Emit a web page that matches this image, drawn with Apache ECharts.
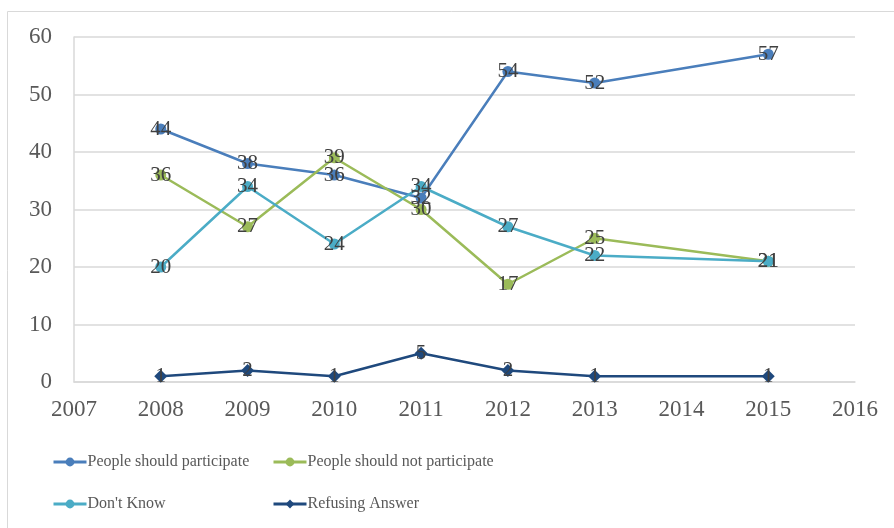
<!DOCTYPE html>
<html>
<head>
<meta charset="utf-8">
<script src="https://cdn.jsdelivr.net/npm/echarts@6/dist/echarts.min.js"></script>
<style>
  html, body { margin: 0; padding: 0; background: #fff; }
  #chart { width: 894px; height: 528px; }
</style>
</head>
<body>
<div id="chart"></div>
<script>
// years on the x axis
const years = [2008, 2009, 2010, 2011, 2012, 2013, 2015];
const seriesNames = ["People should participate", "People should not participate", "Don't Know", "Refusing Answer"];
const shouldParticipate = [44, 38, 36, 32, 54, 52, 57];
const shouldNotParticipate = [36, 27, 39, 30, 17, 25, 21];
const dontKnow = [20, 34, 24, 34, 27, 22, 21];
const refusing = [1, 2, 1, 5, 2, 1, 1];
const colors = ["#4a7ebb", "#9bbb59", "#4bacc6", "#1f497d"];

const font = "'Liberation Serif', 'Times New Roman', serif";

function pairs(vals) {
  return years.map((y, i) => [y, vals[i]]);
}

function makeSeries(name, vals, color, symbol) {
  return {
    name: name,
    type: "line",
    data: pairs(vals),
    symbol: symbol,
    symbolSize: symbol === "diamond" ? 13 : 11,
    lineStyle: { color: color, width: 2.5 },
    itemStyle: { color: color },
    label: {
      show: true,
      position: "inside",
      color: "#404040",
      fontFamily: font,
      fontSize: 21,
    },
  };
}

const myChart = echarts.init(document.getElementById("chart"));

const legendBase = {
  padding: 0,
  itemWidth: 33,
  itemHeight: 11,
  itemGap: 0,
  lineStyle: { width: 3 },
  textStyle: { color: "#595959", fontFamily: font, fontSize: 16, padding: [0, 0, 0, -4] },
};

myChart.setOption({
  animation: false,
  color: colors,
  graphic: [
    {
      type: "rect",
      shape: { x: 7.5, y: 11.5, width: 960, height: 600 },
      style: { fill: "none", stroke: "#d9d9d9", lineWidth: 1 },
      silent: true,
    },
  ],
  grid: { left: 74, right: 39, top: 37, bottom: 146 },
  legend: [
    Object.assign({ left: 52, top: 454, data: [seriesNames[0]] }, legendBase),
    Object.assign({ left: 272, top: 454, data: [seriesNames[1]] }, legendBase),
    Object.assign({ left: 52, top: 496, data: [seriesNames[2]] }, legendBase),
    Object.assign({ left: 272, top: 496, data: [seriesNames[3]] }, legendBase),
  ],
  xAxis: {
    type: "value",
    min: 2007,
    max: 2016,
    interval: 1,
    axisLine: { show: true, lineStyle: { color: "#d9d9d9", width: 1.5 } },
    axisTick: { show: false },
    splitLine: { show: false },
    axisLabel: {
      color: "#595959",
      fontFamily: font,
      fontSize: 23,
      margin: 16,
      formatter: (v) => String(v),
    },
  },
  yAxis: {
    type: "value",
    min: 0,
    max: 60,
    interval: 10,
    axisLine: { show: true, lineStyle: { color: "#d9d9d9", width: 1.5 } },
    axisTick: { show: false },
    splitLine: { show: true, lineStyle: { color: "#d9d9d9", width: 1.5 } },
    axisLabel: { color: "#595959", fontFamily: font, fontSize: 23, margin: 22 },
  },
  series: [
    makeSeries(seriesNames[0], shouldParticipate, colors[0], "circle"),
    makeSeries(seriesNames[1], shouldNotParticipate, colors[1], "circle"),
    makeSeries(seriesNames[2], dontKnow, colors[2], "circle"),
    makeSeries(seriesNames[3], refusing, colors[3], "diamond"),
  ],
});
</script>
</body>
</html>
